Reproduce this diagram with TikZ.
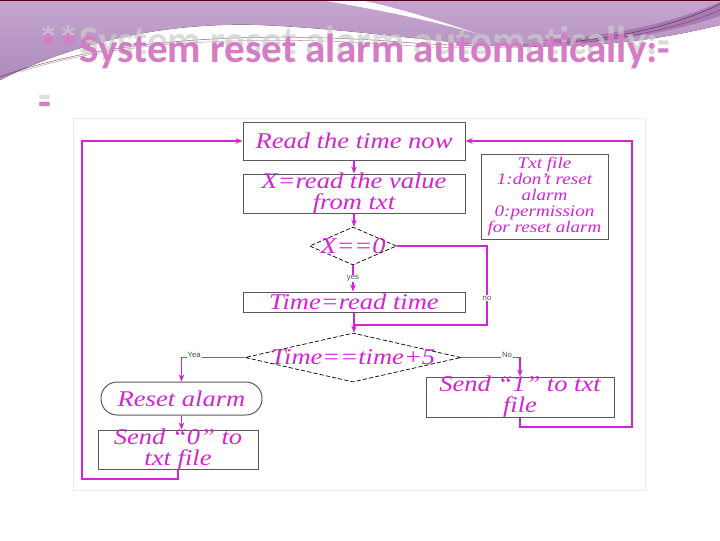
\documentclass[tikz,border=0pt]{standalone}
\usepackage{fontspec}
\setmainfont{Liberation Serif}
\newfontfamily\titlefont{Carlito}
\newfontfamily\flowfont[FakeStretch=1.18]{Liberation Serif}
\newfontfamily\lblfont{Liberation Sans}
\usetikzlibrary{shapes.geometric,arrows.meta}
\definecolor{mag}{RGB}{212,36,212}
\definecolor{ttl}{RGB}{214,124,196}
\definecolor{purA}{RGB}{198,166,208}
\definecolor{purB}{RGB}{172,138,186}
\definecolor{purC}{RGB}{168,122,180}
\def\PX{0.025cm}
\begin{document}
\begin{tikzpicture}[x=0.025cm,y=-0.025cm,
  box/.style={draw=black!65, line width=0.7pt, fill=white, inner sep=0pt},
  ft/.style={text=mag, font=\flowfont\itshape\fontsize{16}{15}\selectfont, align=center, inner sep=0pt},
  fts/.style={text=mag, font=\flowfont\itshape\fontsize{11.5}{11.3}\selectfont, align=center, inner sep=0pt},
  conn/.style={draw=mag, line width=0.9pt},
  arr/.style={conn, -{Stealth[length=5pt,width=4pt]}},
  lbl/.style={font=\lblfont\fontsize{5.5}{6}\selectfont, text=black!70, fill=white, inner sep=0.6pt},
  dia/.style={diamond, draw=black, dash pattern=on 3pt off 1.5pt, line width=0.5pt, inner sep=0pt}
]
\useasboundingbox (0,0) rectangle (720,540);
\fill[white] (0,0) rectangle (720,540);
% header swoosh
\fill[top color=purA, bottom color=purB] (0,0) -- (720,0) -- (720,25)
  .. controls (690,32) and (640,44) .. (560,46)
  .. controls (470,50) and (380,30) .. (260,25)
  .. controls (170,22) and (80,40) .. (0,80) -- cycle;
\fill[white] (320,0) .. controls (370,8) and (430,20) .. (478,34)
  .. controls (420,14) and (380,4) .. (360,0) -- cycle;
\fill[purC] (540,40) .. controls (620,36) and (680,20) .. (720,2) -- (720,16)
  .. controls (680,30) and (620,42) .. (560,44) -- cycle;
\draw[purple!30!black, opacity=0.55, line width=0.4pt] (0,77) .. controls (100,40) and (250,30) .. (400,42)
  .. controls (500,50) and (630,48) .. (720,4);
\draw[purple!30!black, opacity=0.35, line width=0.4pt] (20,72) .. controls (110,42) and (250,34) .. (400,45)
  .. controls (500,53) and (640,46) .. (720,10);
\draw[purple!40!black, line width=1pt] (0,0.5) -- (720,0.5);
% title
\node[anchor=base west, inner sep=0, text=gray!40, opacity=0.7] (titlesh) at (38,54)
  {\resizebox{15.8cm}{0.725cm}{\titlefont\bfseries **System reset alarm automatically:-}};
\node[anchor=base west, inner sep=0, text=ttl] (title) at (38,62)
  {\resizebox{15.8cm}{0.725cm}{\titlefont\bfseries **System reset alarm automatically:-}};
\node[anchor=base west, inner sep=0, text=gray!25] (dashsh) at (38,109) {\titlefont\bfseries\fontsize{30}{30}\selectfont -};
\node[anchor=base west, inner sep=0, text=ttl] (dash) at (38,116) {\titlefont\bfseries\fontsize{30}{30}\selectfont -};
% panel
\draw[black!8, fill=white] (73,118) rectangle (645,490);
% flowchart boxes
\node[box, minimum width={222*\PX}, minimum height={38*\PX}] (read) at (354,141) {};
\node[ft] (readt) at (read) {Read the time now};
\node[box, minimum width={222*\PX}, minimum height={39*\PX}] (xbox) at (354,193.5) {};
\node[ft] (xboxt) at (xbox) {X=read the value\\from txt};
\node[box, minimum width={127*\PX}, minimum height={85*\PX}] (txt) at (544.5,196.5) {};
\node[fts] (txtt) at (txt) {Txt file\\1:don’t reset\\alarm\\0:permission\\for reset alarm};
\node[dia, minimum width={87*\PX}, minimum height={38*\PX}] (d1) at (353,246) {};
\node[ft] (d1t) at (d1) {X==0};
\node[box, minimum width={222*\PX}, minimum height={20*\PX}] (time) at (354,302) {};
\node[ft] (timet) at (time) {Time=read time};
\node[dia, minimum width={216*\PX}, minimum height={49*\PX}] (d2) at (353,357.5) {};
\node[ft] (d2t) at (d2) {Time==time+5};
\node[box, rounded corners=11.5pt, minimum width={161*\PX}, minimum height={33*\PX}] (reset) at (181.5,398.5) {};
\node[ft] (resett) at (reset) {Reset alarm};
\node[box, minimum width={160*\PX}, minimum height={39*\PX}] (s0) at (178,449.5) {};
\node[ft] (s0t) at (s0) {Send “0” to\\txt file};
\node[box, minimum width={188*\PX}, minimum height={40*\PX}] (s1) at (520,397) {};
\node[ft] (s1t) at (s1) {Send “1” to txt\\file};
% junction coordinates
\coordinate (j1) at (354,325);
\coordinate (jn) at (487,325);
\coordinate (l2) at (82,479);
\coordinate (r2) at (632,427);
% connectors
\draw[arr] (read.south) -- (xbox.north);
\draw[arr] (xbox.south) -- (xbox.south |- d1.north);
\draw[arr] (d1.south) -- node[lbl]{yes} (d1.south |- time.north);
\draw[conn] (time.south) -- (j1);
\draw[arr] (j1) -- (j1 |- d2.north);
\draw[conn] (d1.east) -| node[lbl, pos=0.83]{no} (jn) -- (j1);
\draw[arr] (d2.west) -| node[lbl, pos=0.4, yshift=2pt]{Yea} (reset.north);
\draw[arr] (d2.east) -| node[lbl, pos=0.39, yshift=2pt]{No} (s1.north);
\draw[arr] (reset.south) -- (reset.south |- s0.north);
\draw[arr] (s0.south) -- (s0.south |- l2) -- (l2) |- (read.west);
\draw[arr] (s1.south) -- (s1.south |- r2) -- (r2) |- (read.east);
\end{tikzpicture}
\end{document}
